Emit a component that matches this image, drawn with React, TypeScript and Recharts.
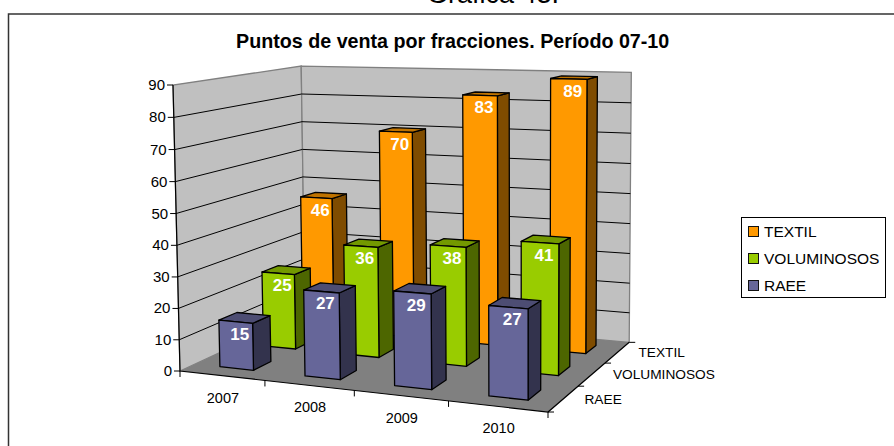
import { Bar, BarChart, LabelList, Legend, XAxis, YAxis } from "recharts";

const YEARS = ["2007", "2008", "2009", "2010"];
const FRACTIONS = ["TEXTIL", "VOLUMINOSOS", "RAEE"];
const TEXTIL = [46, 70, 83, 89];
const VOLUMINOSOS = [25, 36, 38, 41];
const RAEE = [15, 27, 29, 27];
const Y_TICKS = [0, 10, 20, 30, 40, 50, 60, 70, 80, 90];

const rows = YEARS.map((year, i) => ({
  year,
  TEXTIL: TEXTIL[i],
  VOLUMINOSOS: VOLUMINOSOS[i],
  RAEE: RAEE[i],
}));

// The chart lays the bars out on a flat plot; every shape then pushes the
// library's pixels through a small perspective box to get the Excel 3D look.
const CHART_W = 894;
const CHART_H = 446;
const LEGEND_W = 145;
const PLOT_LEFT = 100;
const PLOT_TOP = 50;
const PLOT_W = 400;
const PLOT_H = 300;
const MARGIN = {
  top: PLOT_TOP,
  left: 40,
  right: CHART_W - PLOT_LEFT - PLOT_W - LEGEND_W,
  bottom: CHART_H - PLOT_TOP - PLOT_H - 30,
};
const BAR_SIZE = 40;

type Pt = [number, number];
const O: Pt = [180, 371];
const PU: Pt = [548, 412];
const PD: Pt = [305, 313];
const PH: Pt = [173, 85];
const WU = 0.9;
const WD = 1.16;
const WH = 0.98;

function project(u: number, d: number, h: number): Pt {
  const w = 1 + u * (WU - 1) + d * (WD - 1) + h * (WH - 1);
  const at = (k: 0 | 1) =>
    (O[k] + u * (WU * PU[k] - O[k]) + d * (WD * PD[k] - O[k]) + h * (WH * PH[k] - O[k])) / w;
  return [at(0), at(1)];
}

const poly = (pts: Pt[]) => pts.map((p) => `${p[0].toFixed(1)},${p[1].toFixed(1)}`).join(" ");
const toU = (x: number) => (x - PLOT_LEFT) / PLOT_W;
const toH = (y: number) => (PLOT_TOP + PLOT_H - y) / PLOT_H;

const FONT = "'Liberation Sans', Arial, sans-serif";

const PALETTE: Record<string, { front: string; top: string; side: string }> = {
  TEXTIL: { front: "#FF9900", top: "#BF7300", side: "#7F4C00" },
  VOLUMINOSOS: { front: "#99CC00", top: "#739900", side: "#4D6600" },
  RAEE: { front: "#666699", top: "#4D4D73", side: "#33334D" },
};

// depth slot of a series: RAEE sits at the front, TEXTIL at the back
const depthRange = (name: string): [number, number] => {
  const slot = FRACTIONS.length - 1 - FRACTIONS.indexOf(name);
  return [(slot + 0.32) / 3, (slot + 0.72) / 3];
};

function Bar3D(props: any) {
  const { x, y, width, height, name } = props;
  const c = PALETTE[name];
  const [d0, d1] = depthRange(name);
  const u0 = toU(x);
  const u1 = toU(x + width);
  const top = toH(y);
  const bottom = toH(y + height);
  const edge = { stroke: "#000", strokeWidth: 1.3, strokeLinejoin: "round" as const };
  return (
    <g>
      <polygon
        points={poly([project(u1, d0, bottom), project(u1, d1, bottom), project(u1, d1, top), project(u1, d0, top)])}
        fill={c.side}
        {...edge}
      />
      <polygon
        points={poly([project(u0, d0, top), project(u1, d0, top), project(u1, d1, top), project(u0, d1, top)])}
        fill={c.top}
        {...edge}
      />
      <polygon
        points={poly([project(u0, d0, bottom), project(u1, d0, bottom), project(u1, d0, top), project(u0, d0, top)])}
        fill={c.front}
        {...edge}
      />
    </g>
  );
}

const makeLabel = (name: string) => (props: any) => {
  const { x, y, width, value } = props;
  const [d0] = depthRange(name);
  const [px, py] = project(toU(x + width / 2), d0, toH(y));
  return (
    <text
      x={px + 4}
      y={py + 12.5}
      textAnchor="middle"
      dominantBaseline="central"
      fill="#fff"
      fontFamily={FONT}
      fontWeight="bold"
      fontSize={17}
    >
      {value}
    </text>
  );
};

function Walls() {
  const left = poly([project(0, 0, 0), project(0, 1, 0), project(0, 1, 1), project(0, 0, 1)]);
  const back = poly([project(0, 1, 0), project(1, 1, 0), project(1, 1, 1), project(0, 1, 1)]);
  const floor = poly([project(0, 0, 0), project(1, 0, 0), project(1, 1, 0), project(0, 1, 0)]);
  const grid = Y_TICKS.slice(1, -1).map((t) => t / 90);
  return (
    <g>
      <polygon points={left} fill="#C0C0C0" stroke="#808080" strokeWidth={1.3} />
      <polygon points={back} fill="#C0C0C0" stroke="#808080" strokeWidth={1.3} />
      {grid.map((h) => (
        <polyline
          key={h}
          points={poly([project(0, 0, h), project(0, 1, h), project(1, 1, h)])}
          fill="none"
          stroke="#000"
          strokeWidth={1}
        />
      ))}
      <polygon points={floor} fill="#808080" />
      <polyline points={poly([project(0, 0, 1), project(0, 0, 0), project(1, 0, 0), project(1, 1, 0)])} fill="none" stroke="#000" strokeWidth={1.2} />
      {[0, 1, 2, 3, 4].map((i) => {
        const [tx, ty] = project(i / YEARS.length, 0, 0);
        return <line key={i} x1={tx} y1={ty} x2={tx} y2={ty + 6} stroke="#000" />;
      })}
      {[0, 1, 2, 3].map((i) => {
        const [tx, ty] = project(1, i / FRACTIONS.length, 0);
        return <line key={i} x1={tx} y1={ty} x2={tx + 6} y2={ty} stroke="#000" />;
      })}
      {FRACTIONS.map((name, i) => {
        const [lx, ly] = project(1, (i + 0.5) / FRACTIONS.length, 0);
        const label = FRACTIONS[FRACTIONS.length - 1 - i];
        return (
          <text key={name} x={lx + 21} y={ly + 5} fontFamily={FONT} fontSize={13.7} fill="#000">
            {label}
          </text>
        );
      })}
    </g>
  );
}

function YearTick({ x, payload }: any) {
  const [px, py] = project(toU(x), 0, 0);
  return (
    <text x={px + 1} y={py + 27} textAnchor="middle" fontFamily={FONT} fontSize={14.5} fill="#000">
      {payload.value}
    </text>
  );
}

function ValueTick({ y, payload }: any) {
  const [px, py] = project(0, 0, toH(y));
  return (
    <g>
      <line x1={px - 6} y1={py} x2={px} y2={py} stroke="#000" />
      <text x={px - 8} y={py + 5} textAnchor="end" fontFamily={FONT} fontSize={15} fill="#000">
        {payload.value}
      </text>
    </g>
  );
}

function LegendBox({ payload }: any) {
  return (
    <div
      style={{
        boxSizing: "border-box",
        width: LEGEND_W,
        height: 81,
        border: "1px solid #000",
        fontFamily: FONT,
        fontSize: 15.5,
        padding: "0 0 0 6px",
        background: "#fff",
        whiteSpace: "nowrap",
      }}
    >
      {(payload ?? []).map((p: any) => (
        <div key={p.value} style={{ display: "flex", alignItems: "center", height: 27 }}>
          <span
            style={{
              boxSizing: "border-box",
              display: "inline-block",
              width: 11,
              height: 11,
              marginRight: 5,
              border: "1.5px solid #111",
              background: PALETTE[p.value].front,
            }}
          />
          {p.value}
        </div>
      ))}
    </div>
  );
}

export default function App() {
  return (
    <div style={{ position: "absolute", left: 0, top: 0, width: CHART_W, height: CHART_H, overflow: "hidden", background: "#fff" }}>
      <BarChart
        width={CHART_W}
        height={CHART_H}
        data={rows}
        margin={MARGIN}
        barSize={BAR_SIZE}
        barGap={-BAR_SIZE}
      >
        <text x={427} y={3} fontFamily={FONT} fontSize={27} fill="#000">
          Gráfica 43.
        </text>
        <path d={`M8.5,${CHART_H} V14 H${CHART_W}`} fill="none" stroke="#333" strokeWidth={1.5} />
        <text x={236} y={47.5} fontFamily={FONT} fontWeight="bold" fontSize={19.7} fill="#000">
          Puntos de venta por fracciones. Período 07-10
        </text>
        <Walls />
        <XAxis dataKey="year" height={30} axisLine={false} tickLine={false} tick={YearTick} interval={0} />
        <YAxis width={60} domain={[0, 90]} ticks={Y_TICKS} axisLine={false} tickLine={false} tick={ValueTick} />
        <Legend
          layout="vertical"
          align="right"
          verticalAlign="middle"
          itemSorter={null}
          content={LegendBox}
          wrapperStyle={{ position: "absolute", left: 741, top: 217, width: LEGEND_W, height: 81 }}
        />
        {FRACTIONS.map((name) => (
          <Bar key={name} dataKey={name} name={name} fill={PALETTE[name].front} shape={Bar3D} isAnimationActive={false}>
            <LabelList dataKey={name} content={makeLabel(name)} />
          </Bar>
        ))}
      </BarChart>
    </div>
  );
}
